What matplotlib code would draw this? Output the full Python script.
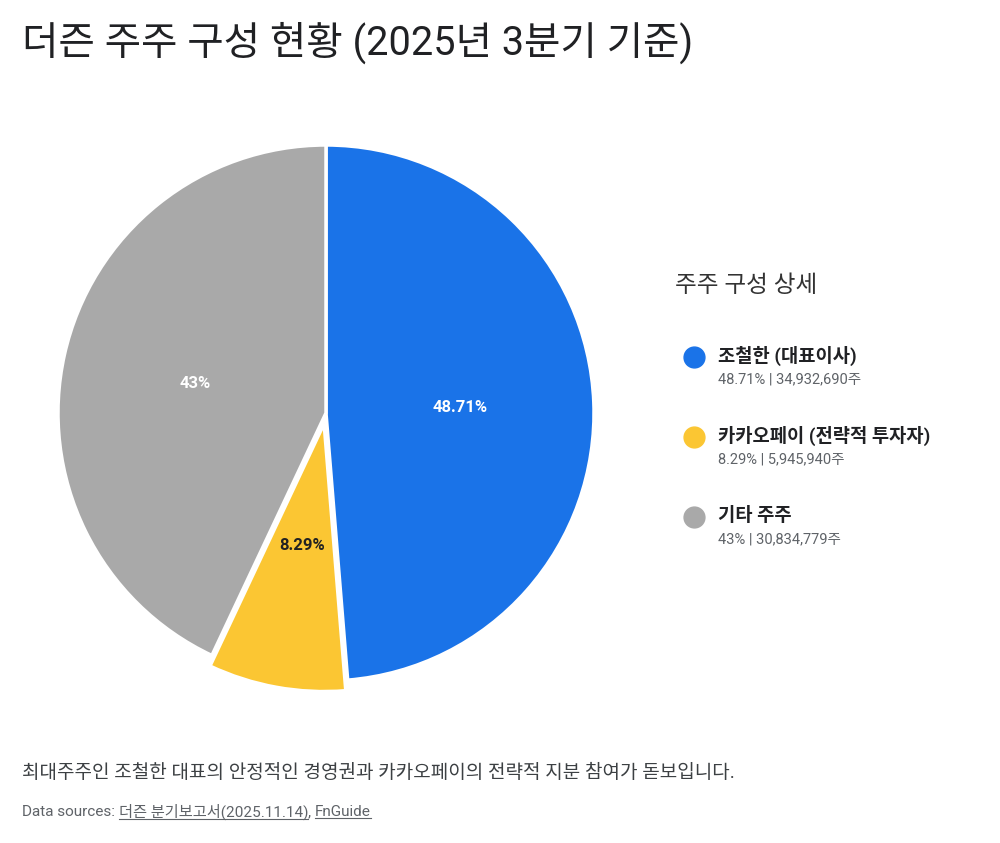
import matplotlib
matplotlib.use("Agg")
import matplotlib.pyplot as plt
from matplotlib.lines import Line2D

plt.rcParams['font.family'] = ['Roboto', 'Noto Sans CJK KR', 'DejaVu Sans']

# ---- DATA ----
holders = ["조철한 (대표이사)", "카카오페이 (전략적 투자자)", "기타 주주"]
shares_pct = [48.71, 8.29, 43.0]
pct_labels = ["48.71%", "8.29%", "43%"]
share_counts = ["34,932,690", "5,945,940", "30,834,779"]
colors = ["#1A73E8", "#FBC633", "#A9A9A9"]
label_colors = ["white", "#222222", "white"]
explode = [0, 0.04, 0]

W, H = 1000, 843
fig = plt.figure(figsize=(W / 100, H / 100), dpi=100)

# title
fig.text(22 / W, 1 - 43 / H, "더즌 주주 구성 현황 (2025년 3분기 기준)",
         fontsize=28.5, color="#202124", va="center", ha="left")

# ---- PIE ----
cx, cy, r = 326, 413, 268
ax = fig.add_axes([(cx - r) / W, 1 - (cy + r) / H, 2 * r / W, 2 * r / H])
wedges, texts, autotexts = ax.pie(
    shares_pct, colors=colors, startangle=90, counterclock=False,
    explode=explode, autopct="%1.2f%%", pctdistance=0.5,
    wedgeprops=dict(edgecolor="white", linewidth=2.5),
    textprops=dict(fontsize=12, fontweight="bold"))
for t, lab, c in zip(autotexts, pct_labels, label_colors):
    t.set_text(lab)
    t.set_color(c)
# pull the small slice label a bit toward the centre
px, py = autotexts[1].get_position()
autotexts[1].set_position((px * 0.93, py * 0.93))
ax.set_xlim(-1, 1)
ax.set_ylim(-1, 1)
ax.set_aspect("equal")
ax.axis("off")
for w in wedges:
    w.set_clip_on(False)

# ---- LEGEND ----
fig.text(675 / W, 1 - 286 / H, "주주 구성 상세", fontsize=17,
         color="#333333", va="center", ha="left")
rows_y = [357, 437, 517]
for name, pct, cnt, col, y in zip(holders, pct_labels, share_counts, colors, rows_y):
    fig.add_artist(Line2D([694 / W], [1 - y / H], marker="o", markersize=15,
                          color=col, linestyle="none", transform=fig.transFigure))
    fig.text(718 / W, 1 - (y - 1) / H, name, fontsize=13.5, fontweight="bold",
             color="#202124", va="center", ha="left")
    fig.text(718 / W, 1 - (y + 22) / H, f"{pct} | {cnt}주", fontsize=10.5,
             color="#5f6368", va="center", ha="left")

# ---- FOOTER ----
fig.text(22 / W, 1 - 773 / H,
         "최대주주인 조철한 대표의 안정적인 경영권과 카카오페이의 전략적 지분 참여가 돋보입니다.",
         fontsize=13.7, color="#3c4043", va="center", ha="left")

src_y = 1 - 812 / H
t0 = fig.text(22 / W, src_y, "Data sources: ", fontsize=11, color="#5f6368",
              va="center", ha="left")
fig.canvas.draw()
renderer = fig.canvas.get_renderer()
x = t0.get_window_extent(renderer).x1
parts = [("더즌 분기보고서(2025.11.14)", True), (", ", False), ("FnGuide", True)]
for txt, underline in parts:
    t = fig.text(x / W, src_y, txt, fontsize=11, color="#5f6368",
                 va="center", ha="left")
    bb = t.get_window_extent(renderer)
    if underline:
        fig.add_artist(Line2D([bb.x0 / W, bb.x1 / W], [(bb.y0 + 1) / H] * 2,
                              color="#5f6368", linewidth=0.8,
                              transform=fig.transFigure))
    x = bb.x1

fig.savefig("out.png", dpi=100, facecolor="white")
